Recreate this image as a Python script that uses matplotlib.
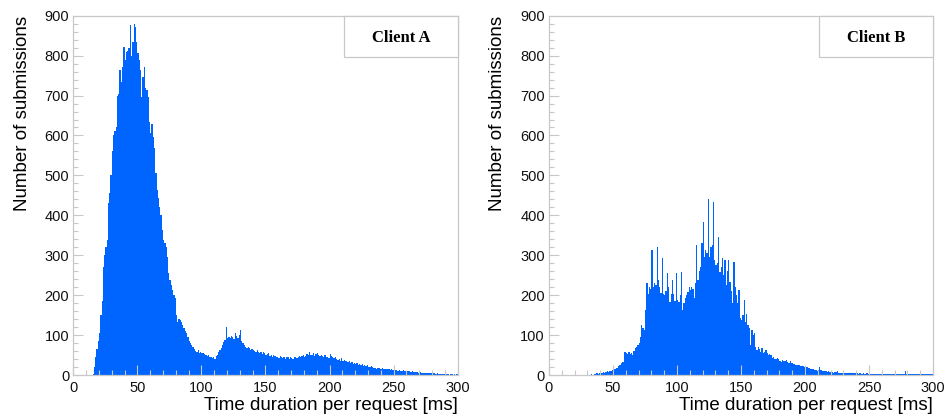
import numpy as np
import matplotlib
matplotlib.use("Agg")
import matplotlib.pyplot as plt
from matplotlib.patches import Rectangle
from matplotlib.ticker import MultipleLocator

# 1 ms bins from 0 to 300 ms
bin_edges = np.arange(0, 301, 1)

client_a = [
    0, 0, 0, 0, 0, 0, 0, 0, 0, 0, 0, 0, 0, 0, 0,
    3, 20, 45, 65, 85, 105, 150, 185, 270, 300,                  # 15-24
    320, 338, 430, 455, 500, 560, 600, 610, 620, 700,            # 25-34
    705, 765, 735, 772, 822, 790, 810, 812, 818, 878,            # 35-44
    800, 835, 880, 872, 833, 806, 789, 764, 697, 747,            # 45-54
    772, 718, 714, 697, 635, 605, 630, 597, 568, 505,            # 55-64
    463, 443, 422, 401, 363, 338, 330, 321, 296, 255,            # 65-74
    238, 225, 213, 200, 192, 150, 134, 140, 138, 134,            # 75-84
    125, 117, 109, 104, 96, 85, 79, 75, 71, 64,                  # 85-94
    61, 58, 62, 56, 58, 54, 55, 52, 50, 48,                      # 95-104
    51, 46, 44, 42, 45, 41, 48, 50, 58, 63,                      # 105-114
    68, 75, 82, 88, 121, 92, 96, 93, 97, 96,                     # 115-124
    90, 104, 98, 92, 100, 113, 86, 79, 74, 71,                   # 125-134
    68, 70, 67, 62, 65, 63, 60, 58, 62, 58,                      # 135-144
    55, 58, 52, 57, 54, 50, 53, 54, 48, 50,                      # 145-154
    45, 50, 47, 44, 46, 42, 48, 45, 43, 46,                      # 155-164
    40, 46, 44, 41, 45, 42, 40, 44, 46, 43,                      # 165-174
    45, 48, 44, 47, 50, 46, 48, 52, 49, 58,                      # 175-184
    51, 50, 56, 48, 52, 54, 50, 48, 51, 47,                      # 185-194
    46, 49, 44, 46, 43, 52, 47, 45, 42, 44,                      # 195-204
    40, 38, 41, 36, 42, 35, 37, 34, 36, 32,                      # 205-214
    34, 30, 33, 28, 31, 27, 30, 26, 28, 25,                      # 215-224
    27, 23, 25, 22, 24, 21, 20, 22, 19, 17,                      # 225-234
    18, 16, 17, 18, 16, 15, 17, 16, 14, 16,                      # 235-244
    15, 14, 13, 15, 12, 14, 12, 13, 11, 12,                      # 245-254
    10, 11, 12, 10, 9, 11, 9, 10, 8, 9,                          # 255-264
    8, 7, 8, 7, 6, 7, 6, 5, 6, 5,                                # 265-274
    5, 4, 5, 4, 4, 3, 4, 3, 3, 4,                                # 275-284
    2, 3, 2, 3, 2, 2, 3, 2, 1, 2,                                # 285-294
    2, 1, 2, 1, 2,                                               # 295-299
]

client_b = [
    0, 0, 0, 0, 0, 0, 0, 0, 0, 0, 0, 0, 0, 0, 0, 0, 0, 0, 0, 0,
    0, 0, 0, 0, 0, 0, 0, 0,
    1, 0,                                                        # 28-29
    1, 1, 1, 2, 1, 2, 3, 4, 3, 4,                                # 30-39
    3, 6, 8, 6, 7, 9, 8, 11, 10, 12,                             # 40-49
    14, 15, 17, 18, 22, 25, 31, 32, 33, 58,                      # 50-59
    54, 52, 58, 53, 54, 50, 60, 67, 71, 75,                      # 60-69
    79, 96, 125, 117, 113, 163, 230, 204, 221, 215,              # 70-79
    313, 221, 230, 225, 321, 238, 221, 205, 292, 204,            # 80-89
    200, 210, 255, 221, 184, 204, 238, 204, 185, 255,            # 90-99
    188, 184, 200, 259, 163, 180, 192, 200, 209, 221,            # 100-109
    213, 221, 215, 192, 230, 326, 238, 260, 271, 330,            # 110-119
    384, 296, 313, 305, 442, 296, 321, 326, 434, 288,            # 120-129
    275, 280, 346, 259, 270, 292, 250, 288, 225, 260,            # 130-139
    288, 234, 210, 180, 284, 221, 200, 180, 213, 142,            # 140-149
    138, 150, 188, 134, 154, 125, 117, 75, 113, 100,             # 150-159
    104, 71, 63, 71, 65, 58, 67, 54, 58, 63,                     # 160-169
    54, 50, 52, 50, 42, 44, 40, 39, 42, 39,                      # 170-179
    36, 33, 38, 36, 34, 38, 33, 31, 36, 29,                      # 180-189
    30, 28, 26, 25, 24, 25, 23, 22, 23, 21,                      # 190-199
    20, 19, 18, 17, 16, 15, 14, 13, 12, 11,                      # 200-209
    12, 19, 12, 11, 10, 11, 9, 8, 9, 8,                          # 210-219
    7, 8, 6, 7, 7, 9, 6, 5, 6, 6,                                # 220-229
    5, 6, 4, 5, 5, 4, 5, 4, 5, 6,                                # 230-239
    4, 3, 4, 4, 3, 4, 3, 3, 4, 3,                                # 240-249
    7, 3, 2, 3, 3, 2, 3, 3, 2, 2,                                # 250-259
    3, 2, 3, 2, 2, 3, 2, 3, 2, 2,                                # 260-269
    3, 2, 2, 3, 2, 2, 3, 2, 10, 2,                               # 270-279
    3, 2, 2, 3, 2, 3, 2, 2, 3, 2,                                # 280-289
    2, 3, 2, 2, 3, 2, 2, 3, 2, 2,                                # 290-299
]

panel_titles = ["Client A", "Client B"]
x_title = "Time duration per request [ms]"
y_title = "Number of submissions"

fill_color = "#0064ff"
frame_color = "#c8c8c8"

plt.rcParams['font.family'] = ['Liberation Sans', 'DejaVu Sans']

fig = plt.figure(figsize=(9.46, 4.17), dpi=100)
ax_a = fig.add_axes([0.0775, 0.1007, 0.4063, 0.8616])
ax_b = fig.add_axes([0.5803, 0.1007, 0.4060, 0.8616])

for ax, counts, title in zip([ax_a, ax_b], [client_a, client_b], panel_titles):
    ax.stairs(counts, bin_edges, fill=True, color=fill_color, linewidth=0)
    ax.set_xlim(0, 300)
    ax.set_ylim(0, 900)

    ax.xaxis.set_major_locator(MultipleLocator(50))
    ax.xaxis.set_minor_locator(MultipleLocator(10))
    ax.yaxis.set_major_locator(MultipleLocator(100))
    ax.yaxis.set_minor_locator(MultipleLocator(20))
    ax.tick_params(which='both', direction='in', color=frame_color,
                   top=False, right=False, labelsize=10.5, labelcolor='#111111')
    ax.tick_params(which='major', length=7, width=0.8)
    ax.tick_params(which='minor', length=3.5, width=0.8)
    ax.tick_params(axis='x', pad=4)
    ax.tick_params(axis='y', pad=3)

    for sp in ax.spines.values():
        sp.set_color(frame_color)
        sp.set_linewidth(0.9)

    ax.set_xlabel(x_title, fontsize=13.5, loc='right', labelpad=2)
    ax.set_ylabel(y_title, fontsize=13.5, loc='top', labelpad=10)

    # ROOT-style label box in the top right corner
    box = Rectangle((0.704, 0.886), 0.296, 0.114, transform=ax.transAxes,
                    facecolor='white', edgecolor=frame_color, linewidth=0.9,
                    clip_on=False, zorder=3)
    ax.add_patch(box)
    ax.text(0.8525, 0.938, title, transform=ax.transAxes, ha='center',
            va='center', fontsize=12, fontweight='bold',
            family=['Liberation Serif', 'DejaVu Serif'], zorder=4)

fig.savefig("out.png", dpi=100)
